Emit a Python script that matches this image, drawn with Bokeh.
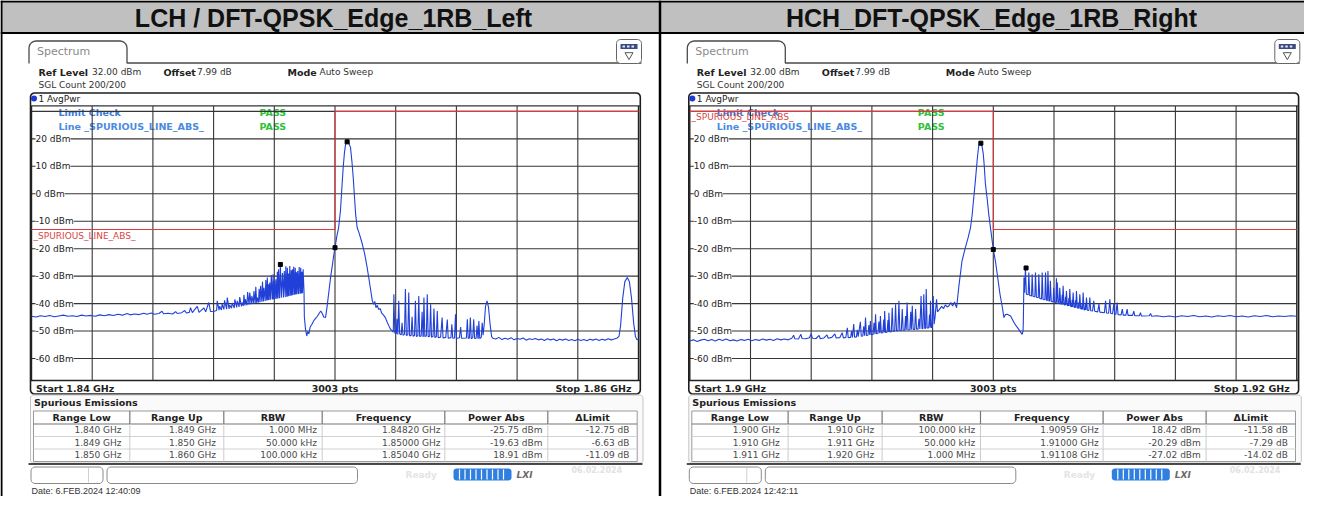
import math
from bokeh.plotting import figure
from bokeh.models import Range1d, Label
from bokeh.core.properties import value
from bokeh.embed import file_html
from bokeh.resources import INLINE

# ---------------- data ----------------
panel_titles = ["LCH / DFT-QPSK_Edge_1RB_Left", "HCH_DFT-QPSK_Edge_1RB_Right"]
span_start_mhz = [1840.0, 1900.0]
span_stop_mhz = [1860.0, 1920.0]
start_labels = ["Start 1.84 GHz", "Start 1.9 GHz"]
stop_labels = ["Stop 1.86 GHz", "Stop 1.92 GHz"]
points_label = "3003 pts"
ref_level_dbm = 32.0
level_ticks = [20, 10, 0, -10, -20, -30, -40, -50, -60]
date_labels = ["Date: 6.FEB.2024  12:40:09", "Date: 6.FEB.2024  12:42:11"]

table_header = ["Range Low", "Range Up", "RBW", "Frequency", "Power Abs", "\u0394Limit"]
range_low_ghz = [[1.840, 1.849, 1.850], [1.900, 1.910, 1.911]]
range_up_ghz = [[1.849, 1.850, 1.860], [1.910, 1.911, 1.920]]
rbw_labels = [["1.000 MHz", "50.000 kHz", "100.000 kHz"], ["100.000 kHz", "50.000 kHz", "1.000 MHz"]]
peak_freq_ghz = [[1.84820, 1.85000, 1.85040], [1.90959, 1.91000, 1.91108]]
peak_power_dbm = [[-25.75, -19.63, 18.91], [18.42, -20.29, -27.02]]
delta_limit_db = [[-12.75, -6.63, -11.09], [-11.58, -7.29, -14.02]]

# trace 1 (MHz, dBm)
left_trace = [
    (1840.00, -44.6), (1840.15, -44.9), (1840.30, -44.4), (1840.45, -44.7), (1840.60, -44.3), (1840.75, -44.8),
    (1840.90, -44.5), (1841.05, -44.2), (1841.20, -44.6), (1841.35, -44.4), (1841.50, -44.7), (1841.65, -44.2),
    (1841.80, -44.5), (1841.95, -44.3), (1842.10, -44.6), (1842.25, -44.1), (1842.40, -44.4), (1842.55, -44.0),
    (1842.70, -44.3), (1842.85, -43.9), (1843.00, -44.2), (1843.15, -43.6), (1843.25, -44.1), (1843.40, -43.8),
    (1843.55, -44.0), (1843.70, -43.5), (1843.80, -43.9), (1843.95, -43.4), (1844.05, -43.9), (1844.20, -43.6),
    (1844.30, -42.8), (1844.35, -43.7), (1844.50, -43.5), (1844.65, -43.8), (1844.75, -42.9), (1844.80, -43.6),
    (1844.95, -43.3), (1845.05, -42.5), (1845.10, -43.4), (1845.20, -43.2), (1845.24, -41.5), (1845.30, -43.3),
    (1845.46, -41.0), (1845.52, -43.2), (1845.60, -42.4), (1845.68, -41.6), (1845.74, -43.0), (1845.84, -39.6),
    (1845.90, -42.9), (1846.02, -42.8),
    (1846.10, -42.5), (1846.12, -39.0), (1846.18, -42.4), (1846.20, -41.0), (1846.26, -42.3), (1846.28, -40.2),
    (1846.34, -42.1), (1846.36, -38.8), (1846.43, -42.0), (1846.45, -37.8), (1846.51, -41.9), (1846.53, -40.5),
    (1846.59, -41.7), (1846.61, -39.8), (1846.68, -41.6), (1846.70, -38.5), (1846.76, -41.4), (1846.78, -39.0),
    (1846.84, -41.2), (1846.86, -37.6), (1846.92, -41.0), (1846.94, -39.6), (1846.98, -40.8), (1847.00, -36.8),
    (1847.03, -40.7), (1847.05, -38.4), (1847.10, -40.6), (1847.12, -35.8), (1847.17, -40.4), (1847.19, -36.0),
    (1847.24, -40.2), (1847.26, -37.2), (1847.31, -40.0), (1847.33, -35.4), (1847.37, -39.9), (1847.39, -33.9),
    (1847.42, -39.8), (1847.44, -37.8), (1847.48, -39.6), (1847.50, -34.6), (1847.53, -39.5), (1847.55, -33.5),
    (1847.59, -39.3), (1847.61, -32.0), (1847.64, -39.2), (1847.66, -34.2), (1847.70, -39.0), (1847.72, -31.4),
    (1847.75, -38.9), (1847.77, -30.5), (1847.79, -38.8), (1847.81, -33.0), (1847.83, -38.7), (1847.85, -32.3),
    (1847.88, -38.6), (1847.90, -29.6), (1847.94, -38.5), (1847.96, -29.3), (1847.98, -38.4), (1848.00, -31.8),
    (1848.03, -38.3), (1848.05, -31.1), (1848.08, -38.2), (1848.10, -28.4), (1848.12, -38.1), (1848.14, -27.5),
    (1848.17, -38.0), (1848.20, -25.75), (1848.23, -37.9), (1848.27, -28.9), (1848.30, -37.8), (1848.33, -28.1),
    (1848.36, -37.6), (1848.38, -26.4), (1848.41, -37.5), (1848.43, -26.9), (1848.45, -37.4), (1848.47, -29.0),
    (1848.49, -37.2), (1848.51, -26.3), (1848.54, -37.1), (1848.56, -27.9), (1848.58, -37.0), (1848.60, -27.5),
    (1848.62, -36.9), (1848.64, -26.6), (1848.67, -36.8), (1848.69, -26.9), (1848.71, -36.7), (1848.73, -28.6),
    (1848.75, -36.6), (1848.77, -28.1), (1848.80, -36.5), (1848.82, -26.7), (1848.85, -36.4), (1848.87, -26.9),
    (1848.89, -36.3), (1848.91, -28.4), (1848.93, -36.2), (1848.95, -27.5), (1848.98, -36.0),
    (1848.99, -44.8), (1849.03, -49.5), (1849.07, -51.8), (1849.10, -50.2), (1849.14, -51.0), (1849.18, -48.6),
    (1849.24, -47.5), (1849.30, -46.2), (1849.36, -45.4), (1849.42, -44.6), (1849.48, -43.5), (1849.53, -42.7),
    (1849.58, -43.6), (1849.63, -44.9), (1849.69, -45.0), (1849.74, -41.0), (1849.80, -35.5), (1849.86, -30.0),
    (1849.92, -25.5), (1849.96, -22.3), (1850.00, -19.63), (1850.06, -15.5), (1850.12, -12.3), (1850.18, -6.2),
    (1850.22, 1.0), (1850.27, 9.6), (1850.31, 14.8), (1850.35, 18.2), (1850.40, 18.91), (1850.45, 18.6),
    (1850.51, 16.9), (1850.56, 11.5), (1850.60, 6.0), (1850.64, -0.8), (1850.68, -7.4), (1850.73, -12.3),
    (1850.80, -14.5), (1850.90, -18.3), (1850.98, -22.0), (1851.06, -26.9), (1851.14, -32.5), (1851.23, -39.0),
    (1851.28, -40.3), (1851.31, -39.2), (1851.35, -41.5), (1851.39, -40.6), (1851.44, -42.2), (1851.49, -41.8),
    (1851.54, -43.5), (1851.60, -44.2), (1851.66, -45.1), (1851.72, -46.8), (1851.78, -48.2), (1851.83, -49.3),
    (1851.90, -50.0),
    (1851.92, -50.4), (1851.94, -36.6), (1851.97, -50.6), (1852.02, -51.0), (1852.04, -45.5), (1852.07, -51.2),
    (1852.10, -39.0), (1852.13, -51.0), (1852.18, -51.4), (1852.21, -47.0), (1852.24, -51.5), (1852.29, -51.2),
    (1852.32, -34.7), (1852.35, -51.6), (1852.40, -51.3), (1852.43, -36.0), (1852.46, -51.8), (1852.51, -51.5),
    (1852.54, -44.8), (1852.57, -51.9), (1852.62, -51.6), (1852.65, -39.0), (1852.68, -52.0), (1852.73, -51.7),
    (1852.76, -37.2), (1852.79, -52.0), (1852.84, -51.8), (1852.87, -43.0), (1852.90, -52.1), (1852.91, -51.9),
    (1852.93, -37.8), (1852.96, -52.0), (1853.01, -51.8), (1853.04, -36.6), (1853.07, -52.1), (1853.12, -51.9),
    (1853.15, -40.2), (1853.18, -52.2), (1853.23, -52.0), (1853.26, -41.8), (1853.29, -52.3), (1853.34, -52.1),
    (1853.37, -42.7), (1853.40, -52.4), (1853.48, -52.2), (1853.53, -45.1), (1853.56, -52.5), (1853.65, -52.3),
    (1853.70, -45.8), (1853.73, -52.6), (1853.82, -52.4), (1853.85, -47.5), (1853.88, -52.6), (1853.94, -52.5),
    (1853.97, -43.9), (1854.00, -52.7), (1854.10, -52.4), (1854.14, -48.5), (1854.17, -52.6), (1854.33, -52.5),
    (1854.36, -45.7), (1854.39, -52.7), (1854.43, -52.5), (1854.46, -45.1), (1854.49, -52.8), (1854.54, -52.4),
    (1854.57, -45.7), (1854.60, -52.7), (1854.65, -52.6), (1854.68, -48.0), (1854.71, -52.8), (1854.72, -52.5),
    (1854.74, -46.3), (1854.77, -52.7), (1854.82, -52.3), (1854.85, -47.0), (1854.88, -51.5), (1854.92, -47.0),
    (1854.96, -41.0), (1855.01, -39.0), (1855.06, -41.5), (1855.11, -47.5), (1855.16, -52.0), (1855.20, -52.6),
    (1855.30, -52.9), (1855.40, -52.3), (1855.50, -53.1), (1855.60, -52.6), (1855.70, -53.0), (1855.80, -52.4),
    (1855.90, -53.2), (1856.00, -52.7), (1856.10, -53.0), (1856.20, -52.5), (1856.30, -53.3), (1856.40, -52.8),
    (1856.50, -53.1), (1856.60, -52.7), (1856.70, -53.2), (1856.80, -52.9), (1856.90, -53.4), (1857.00, -52.8),
    (1857.10, -53.2), (1857.20, -52.9), (1857.30, -53.5), (1857.40, -53.0), (1857.50, -53.3), (1857.60, -52.9),
    (1857.70, -53.4), (1857.80, -53.1), (1857.90, -53.5), (1858.00, -53.0), (1858.10, -53.4), (1858.20, -53.1),
    (1858.30, -53.5), (1858.40, -53.0), (1858.50, -53.3), (1858.60, -52.9), (1858.70, -53.4), (1858.80, -53.0),
    (1858.90, -53.3), (1859.00, -52.8), (1859.10, -53.2), (1859.20, -52.9), (1859.30, -52.5), (1859.36, -51.8),
    (1859.41, -48.0), (1859.48, -38.0), (1859.55, -32.0), (1859.63, -30.5), (1859.70, -32.0), (1859.77, -38.0),
    (1859.84, -47.0), (1859.90, -52.0), (1859.95, -53.2), (1860.00, -52.8),
]

# trace 2 (MHz, dBm)
right_trace = [
    (1900.00, -53.6), (1900.12, -53.2), (1900.24, -53.8), (1900.36, -53.3), (1900.48, -53.0), (1900.60, -53.5),
    (1900.72, -53.1), (1900.84, -53.6), (1900.96, -53.0), (1901.08, -53.4), (1901.20, -52.9), (1901.32, -53.5),
    (1901.44, -53.2), (1901.56, -53.6), (1901.68, -53.1), (1901.80, -53.4), (1901.92, -53.0), (1902.04, -53.5),
    (1902.16, -53.1), (1902.28, -53.4), (1902.40, -52.9), (1902.52, -53.3), (1902.64, -53.0), (1902.76, -53.4),
    (1902.88, -52.8), (1903.00, -53.2), (1903.12, -52.9), (1903.24, -53.2), (1903.36, -52.6), (1903.42, -51.5),
    (1903.46, -52.8), (1903.58, -52.9), (1903.66, -51.2), (1903.70, -52.7), (1903.82, -52.8), (1903.94, -52.4),
    (1904.00, -51.0), (1904.04, -52.6), (1904.16, -52.7), (1904.26, -51.6), (1904.30, -52.8), (1904.42, -52.5),
    (1904.52, -51.4), (1904.56, -52.6), (1904.68, -52.3), (1904.78, -51.0), (1904.82, -52.5), (1904.94, -52.4),
    (1905.02, -50.6), (1905.06, -52.5), (1905.14, -52.3),
    (1905.19, -48.8), (1905.22, -52.4), (1905.30, -52.3), (1905.33, -50.0), (1905.36, -52.3), (1905.40, -47.4),
    (1905.43, -52.2), (1905.49, -52.1), (1905.52, -49.5), (1905.55, -52.0), (1905.62, -46.6), (1905.65, -51.9),
    (1905.70, -51.8), (1905.73, -48.3), (1905.76, -51.7), (1905.79, -45.1), (1905.82, -51.6), (1905.87, -51.5),
    (1905.90, -47.8), (1905.93, -51.4), (1905.95, -46.3), (1905.98, -51.3), (1906.04, -51.2), (1906.07, -47.0),
    (1906.10, -51.1), (1906.12, -43.9), (1906.15, -51.0), (1906.20, -50.9), (1906.23, -46.5), (1906.26, -50.8),
    (1906.28, -44.5), (1906.31, -50.7), (1906.36, -50.6), (1906.39, -45.8), (1906.41, -50.5), (1906.42, -42.7),
    (1906.45, -50.5), (1906.50, -50.4), (1906.53, -46.0), (1906.55, -50.3), (1906.56, -43.3), (1906.59, -50.3),
    (1906.64, -50.2), (1906.67, -41.5), (1906.70, -50.1), (1906.75, -50.0), (1906.78, -40.2), (1906.81, -49.9),
    (1906.86, -49.9), (1906.89, -39.0), (1906.92, -49.8), (1906.97, -49.8), (1907.00, -42.0), (1907.03, -49.7),
    (1907.08, -49.7), (1907.11, -44.5), (1907.13, -49.6), (1907.16, -39.6), (1907.19, -49.6), (1907.25, -49.5),
    (1907.28, -43.0), (1907.30, -49.5), (1907.33, -40.8), (1907.36, -49.4), (1907.41, -49.4), (1907.44, -42.0),
    (1907.47, -49.3), (1907.52, -49.3), (1907.55, -45.5), (1907.58, -49.2), (1907.62, -37.2), (1907.65, -49.1),
    (1907.68, -49.1), (1907.71, -36.6), (1907.74, -49.0), (1907.77, -49.0), (1907.79, -34.7), (1907.82, -48.9),
    (1907.87, -48.9), (1907.90, -44.0), (1907.92, -48.8), (1907.93, -39.0), (1907.96, -48.8), (1907.99, -48.5),
    (1908.02, -37.2), (1908.05, -47.5), (1908.08, -45.0), (1908.13, -38.4), (1908.16, -43.0), (1908.22, -42.2),
    (1908.30, -41.0), (1908.36, -41.8), (1908.42, -40.5), (1908.48, -41.2), (1908.54, -40.8), (1908.60, -39.6),
    (1908.66, -40.9), (1908.72, -39.4), (1908.79, -41.5), (1908.86, -34.2), (1908.97, -24.4), (1909.08, -19.6),
    (1909.17, -16.0), (1909.25, -12.3), (1909.30, -8.0), (1909.36, -1.0), (1909.41, 4.8), (1909.47, 12.5),
    (1909.52, 17.6), (1909.56, 18.2), (1909.59, 18.42), (1909.63, 17.2), (1909.67, 14.5), (1909.70, 10.5),
    (1909.74, 3.6), (1909.80, -2.0), (1909.85, -7.4), (1909.92, -13.5), (1910.00, -20.29), (1910.07, -24.5),
    (1910.13, -29.3), (1910.22, -36.5), (1910.30, -41.5), (1910.35, -45.1), (1910.40, -44.0), (1910.46, -43.9),
    (1910.52, -44.2), (1910.57, -44.5), (1910.63, -45.8), (1910.68, -46.9), (1910.76, -48.2), (1910.84, -49.4),
    (1910.90, -50.4), (1910.95, -51.2), (1910.98, -50.0), (1910.99, -46.3), (1911.01, -30.5), (1911.03, -36.0),
    (1911.06, -27.02), (1911.09, -36.6),
    (1911.15, -36.8), (1911.17, -28.7), (1911.20, -37.0), (1911.26, -37.2), (1911.28, -29.3), (1911.31, -37.4),
    (1911.37, -37.5), (1911.39, -28.7), (1911.42, -37.7), (1911.48, -37.9), (1911.50, -29.3), (1911.53, -38.1),
    (1911.59, -38.3), (1911.61, -28.7), (1911.64, -38.5), (1911.70, -38.6), (1911.72, -28.7), (1911.75, -38.8),
    (1911.78, -38.9), (1911.80, -28.1), (1911.83, -39.0), (1911.86, -39.0), (1911.88, -31.7), (1911.91, -39.2),
    (1911.97, -39.4), (1911.99, -34.2), (1912.02, -39.5), (1912.06, -39.6), (1912.08, -30.8), (1912.09, -39.7),
    (1912.11, -32.3), (1912.14, -39.9), (1912.17, -40.0), (1912.19, -34.2), (1912.22, -40.1), (1912.25, -40.2),
    (1912.27, -36.8), (1912.28, -40.3), (1912.30, -33.5), (1912.33, -40.4), (1912.36, -40.5), (1912.38, -37.5),
    (1912.39, -40.6), (1912.41, -35.4), (1912.44, -40.7), (1912.47, -40.8), (1912.49, -38.0), (1912.50, -40.9),
    (1912.52, -34.7), (1912.55, -41.0), (1912.58, -41.1), (1912.60, -38.6), (1912.61, -41.2), (1912.63, -36.0),
    (1912.66, -41.3), (1912.69, -41.4), (1912.71, -38.8), (1912.72, -41.5), (1912.74, -35.4), (1912.77, -41.6),
    (1912.80, -41.7), (1912.82, -39.5), (1912.83, -41.8), (1912.85, -36.6), (1912.88, -41.9), (1912.91, -42.0),
    (1912.93, -39.8), (1912.94, -42.1), (1912.96, -36.0), (1912.99, -42.2), (1913.02, -42.3), (1913.04, -40.2),
    (1913.05, -42.3), (1913.07, -37.8), (1913.10, -42.4), (1913.15, -42.5), (1913.18, -37.8), (1913.21, -42.6),
    (1913.27, -42.7), (1913.31, -39.0), (1913.34, -42.8), (1913.44, -43.0), (1913.48, -40.2), (1913.51, -43.1),
    (1913.66, -43.3), (1913.70, -39.0), (1913.73, -43.4), (1913.80, -43.5), (1913.84, -38.4), (1913.87, -43.6),
    (1913.93, -43.7), (1913.97, -40.2), (1914.00, -43.8), (1914.04, -43.9), (1914.08, -39.6), (1914.11, -44.0),
    (1914.21, -44.1), (1914.25, -42.0), (1914.28, -44.2), (1914.37, -44.2), (1914.41, -42.0), (1914.44, -44.3),
    (1914.59, -44.3), (1914.63, -42.7), (1914.66, -44.4), (1914.81, -44.4), (1914.85, -43.3), (1914.88, -44.5),
    (1915.14, -44.4), (1915.18, -43.6), (1915.22, -44.6),
    (1915.40, -44.4), (1915.60, -44.8), (1915.80, -44.5), (1916.00, -44.9), (1916.20, -44.4), (1916.40, -44.7),
    (1916.60, -44.3), (1916.80, -44.8), (1917.00, -44.5), (1917.20, -44.9), (1917.40, -44.4), (1917.60, -44.7),
    (1917.80, -44.3), (1918.00, -44.8), (1918.20, -44.5), (1918.40, -44.9), (1918.60, -44.4), (1918.80, -44.7),
    (1919.00, -44.3), (1919.20, -44.8), (1919.40, -44.5), (1919.60, -44.7), (1919.80, -44.4), (1920.00, -44.6),
]
traces = [left_trace, right_trace]

# ---------------- figure (page coordinates of the reference) ----------------
W, H = 1304, 496
p = figure(width=W, height=H, x_range=Range1d(0, W), y_range=Range1d(H, 0),
           x_axis_type=None, y_axis_type=None, toolbar_location=None,
           output_backend="svg", min_border=0)
p.outline_line_color = None
p.background_fill_color = "white"
p.border_fill_color = "white"

PANEL_DX = [0.0, 658.3]
PLOT_L, PLOT_R = 31.0, 638.0
PLOT_T, PLOT_B = 105.4, 380.0
UI = "DejaVu Sans"

xr, yr = {}, {}
for i, dx in enumerate(PANEL_DX):
    s = (span_stop_mhz[i] - span_start_mhz[i]) / (PLOT_R - PLOT_L)
    xl = PLOT_L + dx
    xr[f"f{i}"] = Range1d(span_start_mhz[i] + (0 - xl) * s, span_start_mhz[i] + (W - xl) * s)
    sd = 100.0 / (PLOT_B - PLOT_T)
    yr[f"d{i}"] = Range1d(ref_level_dbm - (H - PLOT_T) * sd, ref_level_dbm - (0 - PLOT_T) * sd)
p.extra_x_ranges = xr
p.extra_y_ranges = yr


def T(xs, ys, texts, size=9.0, color="#222222", bold=False, align="left", font=UI, style=None, **kw):
    st = style or ("bold" if bold else "normal")
    p.text(x=list(xs), y=list(ys), text=list(texts), text_font=value(font),
           text_font_size=f"{size}px", text_color=color, text_font_style=st,
           text_align=align, text_baseline="middle", **kw)


def arc(cx, cy, r, a0, a1, n=5):
    pts = []
    for k in range(n + 1):
        a = math.radians(a0 + (a1 - a0) * k / n)
        pts.append((cx + r * math.cos(a), cy + r * math.sin(a)))
    return pts


def rrect(x0, y0, x1, y1, r):
    pts = (arc(x1 - r, y0 + r, r, -90, 0) + arc(x1 - r, y1 - r, r, 0, 90)
           + arc(x0 + r, y1 - r, r, 90, 180) + arc(x0 + r, y0 + r, r, 180, 270))
    pts.append(pts[0])
    return [a for a, _ in pts], [b for _, b in pts]


def box(x0, y0, x1, y1, r, fill="white", line="#222222", lw=1.0):
    xs, ys = rrect(x0, y0, x1, y1, r)
    p.patch(xs, ys, fill_color=fill, line_color=line, line_width=lw)


# title bar and frame
p.quad(left=[0], right=[1320], top=[0], bottom=[32], fill_color="#c0c0c0", line_color=None)
p.line([0, 1320], [32.5, 32.5], line_color="black", line_width=2)
p.line([0, 1320], [1, 1], line_color="black", line_width=2)
p.line([1, 1], [0, 512], line_color="black", line_width=2)
p.line([659.5, 659.5], [0, 512], line_color="black", line_width=2.5)
T([333, 991], [17.5, 17.5], panel_titles, size=25, color="#111111", bold=True, align="center",
  font="Liberation Sans")

for i, dx in enumerate(PANEL_DX):
    fx, fy = f"f{i}", f"d{i}"
    f0, f1 = span_start_mhz[i], span_stop_mhz[i]

    # tab "Spectrum"
    r = 7
    tab = ([(28.5 + dx, 63.0)] + arc(28.5 + dx + r, 40.5 + r, r, 180, 270)
           + arc(126.5 + dx - r, 40.5 + r, r, 270, 360) + [(126.5 + dx, 62.5), (641.0 + dx, 62.5)])
    p.line([a for a, _ in tab], [b for _, b in tab], line_color="#4a4a4a", line_width=1.3)
    T([36.5 + dx], [51], ["Spectrum"], size=11, color="#8a8a8a")
    # top-right icon
    box(616 + dx, 39, 641 + dx, 63, 4, fill="white", line="#666666", lw=1.0)
    p.quad(left=[620 + dx], right=[637 + dx], top=[43.5], bottom=[48.5], fill_color="#3a4b82", line_color=None)
    p.quad(left=[622 + dx, 626.5 + dx, 631 + dx], right=[624.5 + dx, 629 + dx, 633.5 + dx],
           top=[45] * 3, bottom=[47] * 3, fill_color="#dfe6f5", line_color=None)
    p.scatter([628.5 + dx], [54.5], marker="inverted_triangle", size=8, fill_color="white",
              line_color="#555555", line_width=1)

    # header text
    T([38 + dx, 163 + dx, 287 + dx], [71.5] * 3, ["Ref Level", "Offset", "Mode"], size=9.5, bold=True)
    T([91.5 + dx, 196.5 + dx, 319 + dx], [71.5] * 3, ["32.00 dBm", "7.99 dB", "Auto Sweep"], size=9, color="#333333")
    T([38 + dx], [84], ["SGL Count 200/200"], size=9, color="#333333")

    # diagram box
    box(30 + dx, 92.5, 639.8 + dx, 393.5, 4, fill="white", line="#1e1e1e", lw=1.6)
    p.scatter([33.5 + dx], [98], marker="circle", size=6, fill_color="#1d3bd1", line_color=None)
    T([38 + dx], [98.5], ["1 AvgPwr"], size=9, color="#222222")
    p.line([30 + dx, 639.8 + dx], [PLOT_T, PLOT_T], line_color="#333333", line_width=1.2)
    p.line([30 + dx, 639.8 + dx], [PLOT_B, PLOT_B], line_color="#222222", line_width=1.5)

    # limit check texts (under the grid)
    T([58 + dx], [112], ["Limit Check"], size=9.5, color="#3c7ad6", bold=True)
    T([58 + dx], [125.5], ["Line _SPURIOUS_LINE_ABS_"], size=9.5, color="#4a8be0", bold=True)
    T([259 + dx, 259 + dx], [112, 125.5], ["PASS", "PASS"], size=9.5, color="#33c03a", bold=True)

    # grid
    vx = [f0 + 2.0 * k for k in range(1, 10)]
    p.segment(x0=vx, y0=[ref_level_dbm] * 9, x1=vx, y1=[ref_level_dbm - 100] * 9,
              x_range_name=fx, y_range_name=fy, line_color="#363636", line_width=1.1)
    hl = [30] + level_ticks
    p.segment(x0=[f0] * len(hl), y0=hl, x1=[f1] * len(hl), y1=hl,
              x_range_name=fx, y_range_name=fy, line_color="#363636", line_width=1.1)
    p.segment(x0=[f0, f1], y0=[ref_level_dbm] * 2, x1=[f0, f1], y1=[ref_level_dbm - 100] * 2,
              x_range_name=fx, y_range_name=fy, line_color="#222222", line_width=1.4)

    # limit line (power - delta limit per range)
    lx, ly = [], []
    for lo, up, pw, dl in zip(range_low_ghz[i], range_up_ghz[i], peak_power_dbm[i], delta_limit_db[i]):
        lim = round(pw - dl, 2)
        lx += [lo * 1000, up * 1000]
        ly += [lim, lim]
    p.line(lx, ly, x_range_name=fx, y_range_name=fy, line_color="#e0383c", line_width=1.1)
    if i == 0:
        T([33 + dx], [235.5], ["_SPURIOUS_LINE_ABS_"], size=9, color="#d9443f")
    else:
        T([32.7 + dx], [116.5], ["_SPURIOUS_LINE_ABS_"], size=9, color="#d9443f")

    # trace
    tf = [a for a, _ in traces[i]]
    tp = [b for _, b in traces[i]]
    p.line(tf, tp, x_range_name=fx, y_range_name=fy, line_color="#2040d8", line_width=1.1)
    p.scatter([v * 1000 for v in peak_freq_ghz[i]], peak_power_dbm[i], x_range_name=fx, y_range_name=fy,
              marker="square", size=4, fill_color="black", line_color="black")

    # level labels
    for lv in level_ticks:
        p.add_layout(Label(x=35 + dx, y=lv, y_range_name=fy, text=f"{lv} dBm", text_font=UI,
                           text_font_size="9px", text_color="#222222", text_baseline="middle",
                           background_fill_color="white"))

    # start / stop row
    T([35.5 + dx], [387.5], [start_labels[i]], size=9.5, bold=True)
    T([334.5 + dx], [387.5], [points_label], size=9.5, bold=True, align="center")
    T([631 + dx], [387.5], [stop_labels[i]], size=9.5, bold=True, align="right")

    # spurious emissions table
    box(30 + dx, 394.5, 642.5 + dx, 462.5, 3, fill="#fafafa", line="#c4c4c4", lw=1.0)
    T([33.5 + dx], [402], ["Spurious Emissions"], size=9.5, bold=True)
    col_edges = [33, 129.3, 223.3, 321.7, 444.3, 547.3, 636.7]
    t_top, h_bot, t_bot = 410.5, 423.5, 461.0
    p.quad(left=[col_edges[0] + dx], right=[col_edges[-1] + dx], top=[t_top], bottom=[t_bot],
           fill_color="white", line_color="#9a9a9a", line_width=1)
    p.line([col_edges[0] + dx, col_edges[-1] + dx], [h_bot, h_bot], line_color="#777777", line_width=1.2)
    for yy in (436.0, 448.5):
        p.line([col_edges[0] + dx, col_edges[-1] + dx], [yy, yy], line_color="#d2d2d2", line_width=1)
    inner = [c + dx for c in col_edges[1:-1]]
    p.segment(x0=inner, y0=[t_top] * 5, x1=inner, y1=[h_bot] * 5, line_color="#777777", line_width=1.2)
    p.segment(x0=inner, y0=[h_bot] * 5, x1=inner, y1=[t_bot] * 5, line_color="#cccccc", line_width=1)
    centers = [(a + b) / 2 + dx for a, b in zip(col_edges[:-1], col_edges[1:])]
    T(centers, [417] * 6, table_header, size=9.5, bold=True, align="center")
    right_x = [121 + dx, 215.5 + dx, 316.5 + dx, 440 + dx, 542 + dx, 629 + dx]
    row_y = [429.8, 442.3, 454.8]
    cols = [
        [f"{v:.3f} GHz" for v in range_low_ghz[i]],
        [f"{v:.3f} GHz" for v in range_up_ghz[i]],
        rbw_labels[i],
        [f"{v:.5f} GHz" for v in peak_freq_ghz[i]],
        [f"{v:.2f} dBm" for v in peak_power_dbm[i]],
        [f"{v:.2f} dB" for v in delta_limit_db[i]],
    ]
    for cx, vals in zip(right_x, cols):
        T([cx] * 3, row_y, vals, size=9, color="#4a4a4a", align="right")

    # status bar
    p.line([28 + dx, 642 + dx], [463.5, 463.5], line_color="#111111", line_width=1.6)
    box(30.5 + dx, 466.5, 102.5 + dx, 483, 4, fill="white", line="#8a8a8a", lw=1.0)
    p.line([88 + dx, 88 + dx], [467.5, 482], line_color="#d0d0d0", line_width=1)
    box(106.5 + dx, 466.5, 357 + dx, 483, 4, fill="white", line="#8a8a8a", lw=1.0)
    T([405 + dx], [474], ["Ready"], size=9, color="#e4e4e4", bold=True)
    box(453 + dx, 468, 511 + dx, 480, 3, fill="#2f7fe0", line=None)
    sx = [459 + dx, 464.5 + dx, 470 + dx, 475.5 + dx, 481 + dx, 486.5 + dx, 492 + dx, 497.5 + dx, 503 + dx]
    p.segment(x0=sx, y0=[469] * 9, x1=sx, y1=[479] * 9, line_color="white", line_width=1.2)
    T([516 + dx], [474], ["LXI"], size=9, color="#6a6a6a", style="bold italic")
    T([571 + dx], [468.5], ["06.02.2024"], size=8, color="#e2e2e2", bold=True)

    # date
    T([31 + dx], [490.5], [date_labels[i]], size=9, color="#333333", font="Liberation Sans")

open("out.html", "w").write(file_html(p, INLINE))
